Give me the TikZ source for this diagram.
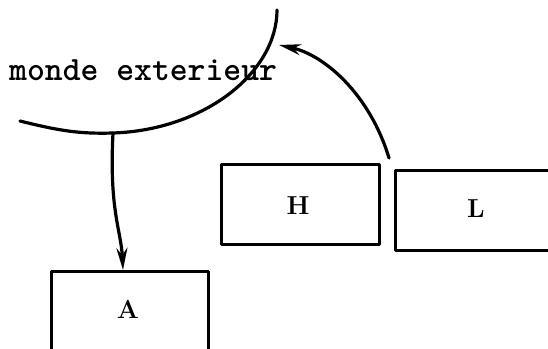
\documentclass[tikz,border=0pt]{standalone}
\usepackage{fontspec}
\usetikzlibrary{arrows.meta}
\begin{document}
\begin{tikzpicture}[x=1pt,y=-1pt,line cap=round,line join=round,
  boxst/.style={draw,line width=3.2pt,rectangle,minimum width=#1,inner sep=0pt},
  lab/.style={font=\fontsize{26}{26}\selectfont\bfseries},
  conn/.style={line width=3.2pt,-{Stealth[length=22pt,width=11pt]}}]
\useasboundingbox (0,0) rectangle (548,348);
\clip (0,0) rectangle (548,348);
% monde exterieur boundary
\coordinate (e1) at (20,121);
\coordinate (eb) at (113,133);
\coordinate (etop) at (277,10);
\coordinate (ein) at (279,45);
\draw[line width=3.2pt] (e1) .. controls (60,131) and (80,134) .. (eb)
  .. controls (205,130) and (277,72) .. (etop);
\node[anchor=base west,inner sep=0pt,font=\ttfamily\bfseries\fontsize{34}{34}\selectfont] (mw) at (9,80) {monde exterieur};
% boxes
\node[boxst=157pt,minimum height=160pt,anchor=north west] (A) at (50,270) {};
\node[lab] (Atext) at (128,309) {A};
\node[boxst=158pt,minimum height=80pt,anchor=north west] (H) at (220,163) {};
\node[lab] (Htext) at (298,206) {H};
\node[boxst=170pt,minimum height=80pt,anchor=north west] (L) at (394,169) {};
\node[lab] (Ltext) at (476,209) {L};
% connectors
\coordinate (ls) at (389,158);
\coordinate (at) at (123,270);
\draw[conn] (eb) .. controls (109,210) and (121,230) .. (at);
\draw[conn] (ls) .. controls (370,95) and (325,55) .. (ein);
\end{tikzpicture}
\end{document}
